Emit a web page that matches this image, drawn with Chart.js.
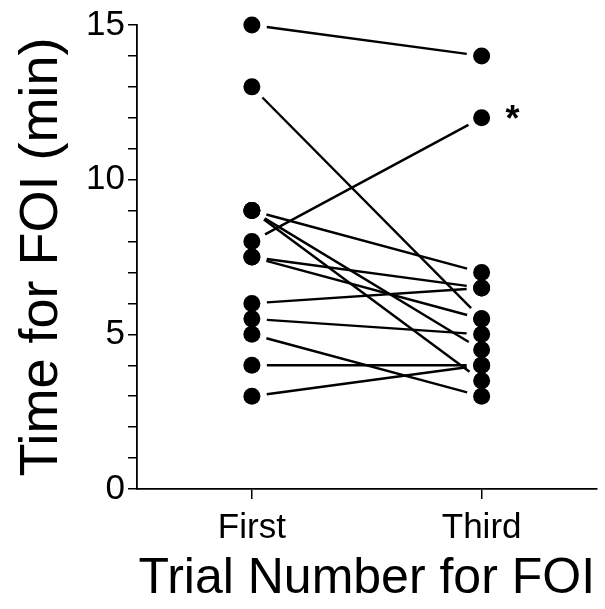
<!DOCTYPE html>
<html>
<head>
<meta charset="utf-8">
<script src="https://cdn.jsdelivr.net/npm/chart.js@4"></script>
<style>
  body { margin: 0; background: #fff; }
  canvas { display: block; }
</style>
</head>
<body>
<canvas id="foiChart" width="605" height="609"></canvas>
<script>
// Data: one entry per subject, time for FOI (min)
const categories = ['First', 'Third'];
const categoryPositions = [1, 3];
const firstTrial = [15, 13, 9, 9, 9, 8, 7.5, 7.5, 6, 5.5, 5, 4, 3];
const thirdTrial = [14, 5.5, 7, 4.5, 3.5, 12, 6.5, 5.5, 6.5, 5, 3, 4, 4];
const yTickLabels = [0, 5, 10, 15];
const starredSubjects = [5];

// draws the pair lines, leaving a small gap at each dot
const pairLines = {
    id: 'pairLines',
    beforeDatasetsDraw(chart) {
        const ctx = chart.ctx;
        const gap = 15;
        ctx.save();
        ctx.strokeStyle = '#000';
        ctx.lineWidth = 2.4;
        chart.data.datasets.forEach((ds, i) => {
            const pts = chart.getDatasetMeta(i).data;
            const a = pts[0], b = pts[1];
            const dx = b.x - a.x, dy = b.y - a.y;
            const len = Math.sqrt(dx * dx + dy * dy);
            const ux = dx / len, uy = dy / len;
            ctx.beginPath();
            ctx.moveTo(a.x + ux * gap, a.y + uy * gap);
            ctx.lineTo(b.x - ux * gap, b.y - uy * gap);
            ctx.stroke();
        });
        ctx.restore();
    },
    afterDatasetsDraw(chart) {
        const ctx = chart.ctx;
        ctx.save();
        ctx.fillStyle = '#000';
        ctx.font = 'bold 36px "Liberation Sans", Arial, sans-serif';
        ctx.textAlign = 'center';
        ctx.textBaseline = 'middle';
        starredSubjects.forEach(i => {
            const p = chart.getDatasetMeta(i).data[1];
            ctx.fillText('*', p.x + 31, p.y + 3);
        });
        ctx.restore();
    }
};

Chart.defaults.font.family = '"Liberation Sans", Arial, sans-serif';
Chart.defaults.color = '#000';

const ctx = document.getElementById('foiChart').getContext('2d');
const foiChart = new Chart(ctx, {
    type: 'scatter',
    data: {
        datasets: firstTrial.map((f, i) => ({
            data: [{ x: categoryPositions[0], y: f }, { x: categoryPositions[1], y: thirdTrial[i] }],
            showLine: false,
            clip: false,
            pointRadius: 8.5,
            pointHoverRadius: 8.5,
            pointBackgroundColor: '#000',
            pointBorderWidth: 0
        }))
    },
    options: {
        responsive: false,
        animation: false,
        layout: { padding: { top: 25, right: 7, left: 10, bottom: 0 } },
        plugins: {
            legend: { display: false },
            tooltip: { enabled: false }
        },
        scales: {
            x: {
                type: 'linear',
                min: 0,
                max: 4,
                afterBuildTicks: s => { s.ticks = categoryPositions.map(v => ({ value: v })); },
                afterFit: s => { s.height = 120; },
                ticks: {
                    autoSkip: false,
                    maxRotation: 0,
                    padding: 8,
                    font: { size: 35 },
                    callback: v => categories[categoryPositions.indexOf(v)]
                },
                grid: { drawOnChartArea: false, tickLength: 10, color: '#000', lineWidth: 1.5 },
                border: { color: '#000', width: 1.8 },
                title: {
                    display: true,
                    text: 'Trial Number for FOI',
                    font: { size: 50 },
                    padding: { top: 0, bottom: 0 }
                }
            },
            y: {
                min: 0,
                max: 15,
                afterFit: s => { s.width = 127; },
                ticks: {
                    stepSize: 1,
                    autoSkip: false,
                    padding: 3,
                    font: { size: 35 },
                    callback: v => yTickLabels.includes(v) ? v : ''
                },
                grid: { drawOnChartArea: false, tickLength: 9, color: '#000', lineWidth: 1.5 },
                border: { color: '#000', width: 1.8 },
                title: {
                    display: true,
                    text: 'Time for FOI (min)',
                    font: { size: 54 },
                    padding: { top: 0, bottom: 0 }
                }
            }
        }
    },
    plugins: [pairLines]
});
</script>
</body>
</html>
